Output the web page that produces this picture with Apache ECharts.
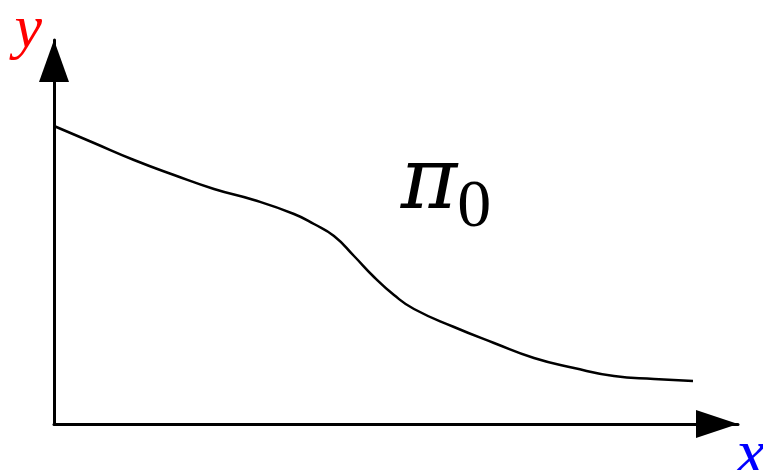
<!DOCTYPE html>
<html>
<head>
<meta charset="utf-8">
<script src="https://cdn.jsdelivr.net/npm/echarts@6/dist/echarts.min.js"></script>
<style>
  html, body { margin: 0; padding: 0; background: #fff; }
  #chart { width: 763px; height: 470px; }
</style>
</head>
<body>
<div id="chart"></div>
<script>
// Decaying profile π0 along x (arbitrary units)
const xValues = [0, 40, 80, 120, 160, 200, 240, 260, 280, 300, 320, 340, 360, 400, 440, 480, 520, 560, 600, 639];
const yValues = [298, 281, 264, 249, 235, 224, 210, 200, 188, 168, 147, 129, 115, 97, 81, 66, 56, 48, 45, 43];
const curveLabel = 'π';
const curveSub = '0';
const labelAt = [392, 238];
const xName = 'x';
const yName = 'y';

const chart = echarts.init(document.getElementById('chart'), null, { renderer: 'canvas' });

const points = xValues.map((x, i) => [x, yValues[i]]);

chart.setOption({
  animation: false,
  backgroundColor: '#ffffff',
  grid: { left: 54, right: 25, top: 40, bottom: 46, containLabel: false, outerBoundsMode: 'none' },
  xAxis: {
    type: 'value', min: 0, max: 684,
    name: xName, nameLocation: 'end', nameGap: -2,
    nameTextStyle: { color: '#0000ff', fontFamily: 'Liberation Serif', fontStyle: 'italic', fontSize: 66, verticalAlign: 'top', padding: [0, 0, 0, 0] },
    axisLine: { show: true, symbol: ['none', 'triangle'], symbolSize: [28, 42], symbolOffset: [0, -21], lineStyle: { color: '#000', width: 3 } },
    axisTick: { show: false }, axisLabel: { show: false }, splitLine: { show: false }
  },
  yAxis: {
    type: 'value', min: 0, max: 384,
    name: yName, nameLocation: 'end', nameGap: -22,
    nameTextStyle: { color: '#ff0000', fontFamily: 'Liberation Serif', fontStyle: 'italic', fontSize: 62, align: 'right', padding: [0, 12, 0, 0] },
    axisLine: { show: true, symbol: ['none', 'triangle'], symbolSize: [30, 42], symbolOffset: [0, -21], lineStyle: { color: '#000', width: 3 } },
    axisTick: { show: false }, axisLabel: { show: false }, splitLine: { show: false }
  },
  series: [{
    type: 'line',
    data: points,
    smooth: 0.5,
    showSymbol: false,
    lineStyle: { color: '#000', width: 2.5 }
  }, {
    type: 'scatter',
    data: [labelAt],
    symbolSize: 1,
    itemStyle: { color: 'transparent', opacity: 1 },
    label: {
      show: true,
      position: 'inside',
      color: '#000',
      formatter: '{p|' + curveLabel + '}{s|' + curveSub + '}',
      rich: {
        p: { fontFamily: 'DejaVu Serif', fontStyle: 'italic', fontSize: 86, color: '#000' },
        s: { fontFamily: 'Liberation Serif', fontSize: 68, color: '#000', padding: [44, 0, 0, 0] }
      }
    }
  }]
});
</script>
</body>
</html>
